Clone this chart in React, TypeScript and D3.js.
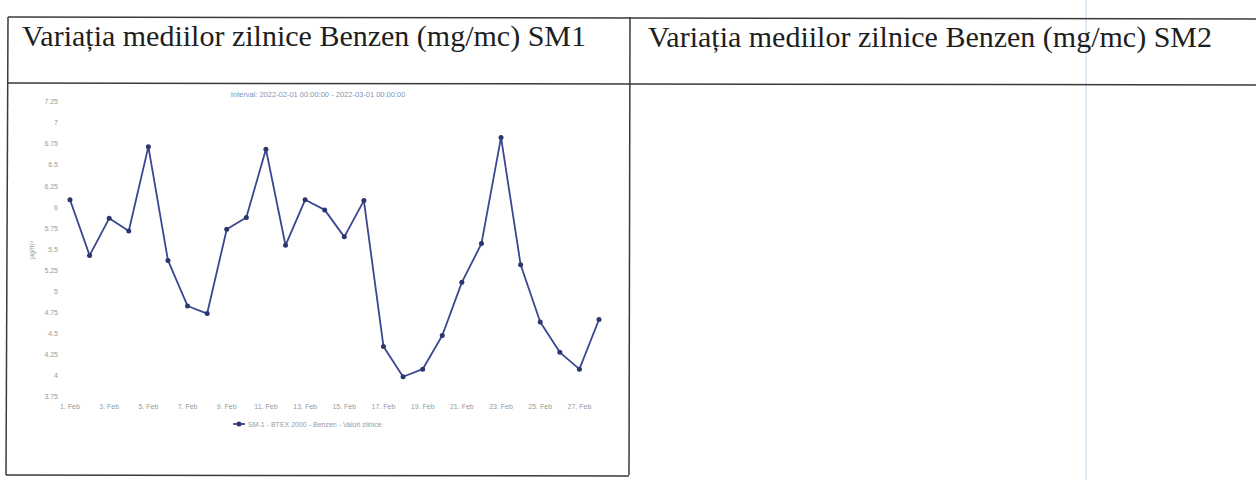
import React from "react";
import * as d3 from "d3";

const days: number[] = [1,2,3,4,5,6,7,8,9,10,11,12,13,14,15,16,17,18,19,20,21,22,23,24,25,26,27,28];
const benzenSM1: number[] = [6.09,5.43,5.87,5.72,6.72,5.37,4.83,4.74,5.74,5.88,6.69,5.55,6.09,5.97,5.65,6.08,4.35,3.99,4.08,4.48,5.11,5.57,6.83,5.32,4.64,4.28,4.08,4.67];
const yTicks: number[] = [3.75,4,4.25,4.5,4.75,5,5.25,5.5,5.75,6,6.25,6.5,6.75,7,7.25];
const xTickDays: number[] = [1,3,5,7,9,11,13,15,17,19,21,23,25,27];
const titleSM1 = "Variația mediilor zilnice Benzen (mg/mc) SM1";
const titleSM2 = "Variația mediilor zilnice Benzen (mg/mc) SM2";
const intervalText = "Interval: 2022-02-01 00:00:00 - 2022-03-01 00:00:00";
const legendText = "SM-1 - BTEX 2000 - Benzen - Valori zilnice";
const yAxisTitle = "µg/m³";

export default function App() {
  const W = 1256, H = 480;
  const toDate = (d: number) => new Date(Date.UTC(2022, 1, d));
  const x = d3.scaleUtc().domain([toDate(1), toDate(28)]).range([70, 599]);
  const y = d3.scaleLinear().domain([3.75, 7.25]).range([397, 102]);
  const pts = days.map((d, i) => ({ d, v: benzenSM1[i] }));
  const line = d3.line<{ d: number; v: number }>()
    .x(p => x(toDate(p.d)))
    .y(p => y(p.v))(pts) || "";
  const fmt = d3.utcFormat("%-d. %b");

  const border = "#3a3a3a";
  const tickColor = "#969ba3";
  const lineColor = "#3a4790";
  const markColor = "#2b376f";

  return (
    <svg width={W} height={H} style={{ position: "absolute", left: 0, top: 0, background: "#fff" }}>
      <rect x={0} y={0} width={W} height={H} fill="#fff" />
      {/* scan fold line */}
      <line x1={1086} y1={0} x2={1086} y2={H} stroke="#c9dcf2" strokeWidth={1.2} />
      {/* table */}
      <g stroke={border} strokeWidth={1.5} fill="none">
        <line x1={8} y1={17} x2={W} y2={19} />
        <line x1={8} y1={83} x2={W} y2={85} />
        <line x1={8} y1={17} x2={6} y2={475} />
        <line x1={630} y1={17} x2={629} y2={475} />
        <line x1={6} y1={475} x2={629} y2={476} />
      </g>
      <g fontFamily="'Liberation Serif', 'Times New Roman', serif" fontSize={30} fill="#1e1e1e">
        <text x={22} y={46}>{titleSM1}</text>
        <text x={648} y={47}>{titleSM2}</text>
      </g>
      {/* chart */}
      <g fontFamily="'Liberation Sans', Arial, sans-serif">
        <text x={318} y={97} fontSize={7.5} fill="#8296b8" textAnchor="middle">{intervalText}</text>
        {yTicks.map(t => (
          <text key={t} x={58} y={y(t)} dy="0.32em" fontSize={7} fill={tickColor} textAnchor="end">{String(t)}</text>
        ))}
        <text transform={`translate(34,250) rotate(-90)`} fontSize={7} fill={tickColor} textAnchor="middle">{yAxisTitle}</text>
        {xTickDays.map(d => (
          <text key={d} x={x(toDate(d))} y={409} fontSize={7} fill={tickColor} textAnchor="middle">{fmt(toDate(d))}</text>
        ))}
        <path d={line} fill="none" stroke={lineColor} strokeWidth={1.8} strokeLinejoin="round" />
        {pts.map(p => (
          <circle key={p.d} cx={x(toDate(p.d))} cy={y(p.v)} r={2.5} fill={markColor} />
        ))}
        <line x1={233} y1={424} x2={245} y2={424} stroke={lineColor} strokeWidth={1.8} />
        <circle cx={239} cy={424} r={2.5} fill={markColor} />
        <text x={248} y={426.5} fontSize={7} fill={tickColor}>{legendText}</text>
      </g>
    </svg>
  );
}
